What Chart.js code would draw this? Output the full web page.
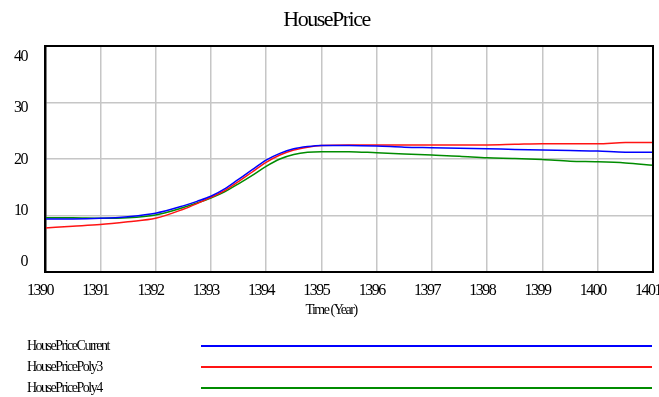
<!DOCTYPE html>
<html>
<head>
<meta charset="utf-8">
<script src="https://cdn.jsdelivr.net/npm/chart.js@4/dist/chart.umd.min.js"></script>
<style>
  html, body { margin: 0; padding: 0; background: #fff; }
  #wrap { width: 659px; height: 397px; }
</style>
</head>
<body>
<div id="wrap"><canvas id="chart"></canvas></div>
<script>
// values
const years = [1390, 1390.5, 1391, 1391.5, 1392, 1392.5, 1392.75, 1393, 1393.25, 1393.5, 1393.75,
  1394, 1394.25, 1394.5, 1394.75, 1395, 1395.5, 1396, 1396.5, 1397, 1397.5, 1398, 1398.5,
  1399, 1399.5, 1400, 1400.5, 1401];
const priceCurrent = [9.4, 9.4, 9.5, 9.8, 10.4, 11.7, 12.5, 13.4, 14.7, 16.4, 18.1,
  19.8, 21.0, 21.8, 22.2, 22.4, 22.4, 22.3, 22.1, 22.0, 21.9, 21.8, 21.7,
  21.6, 21.5, 21.4, 21.2, 21.2];
const pricePoly3 = [7.8, 8.1, 8.4, 8.9, 9.5, 11.1, 12.1, 13.2, 14.4, 16.0, 17.7,
  19.4, 20.7, 21.6, 22.1, 22.4, 22.5, 22.5, 22.5, 22.5, 22.5, 22.5, 22.6,
  22.7, 22.7, 22.7, 22.9, 22.9];
const pricePoly4 = [9.6, 9.6, 9.5, 9.6, 10.1, 11.4, 12.2, 13.1, 14.2, 15.6, 17.1,
  18.7, 20.0, 20.8, 21.2, 21.3, 21.3, 21.1, 20.9, 20.7, 20.5, 20.2, 20.1,
  19.9, 19.6, 19.5, 19.3, 18.9];
const seriesNames = ['HousePriceCurrent', 'HousePricePoly3', 'HousePricePoly4'];
const yTicks = [0, 10, 20, 30, 40];
const chartTitle = 'HousePrice';
const xTitle = 'Time (Year)';

const FONT = "'Liberation Serif', 'DejaVu Serif', serif";

const pts = vals => vals.map((v, i) => ({ x: years[i], y: v }));

// frame, axis title, legend rows and the condensed lettering
const vensimLook = {
  id: 'vensimLook',
  beforeDraw(chart) {
    chart.ctx.letterSpacing = '-1.5px';
  },
  afterDraw(chart) {
    const ctx = chart.ctx;
    const a = chart.chartArea;
    ctx.save();
    ctx.letterSpacing = '-1.5px';
    ctx.strokeStyle = '#000';
    ctx.lineWidth = 2;
    ctx.strokeRect(a.left, a.top, a.right - a.left, a.bottom - a.top);

    ctx.fillStyle = '#000';
    ctx.font = '14px ' + FONT;
    ctx.textAlign = 'center';
    ctx.textBaseline = 'middle';
    ctx.fillText(xTitle, 331, 310);

    const rows = [346, 367, 388];
    ctx.textAlign = 'left';
    chart.data.datasets.forEach((ds, i) => {
      ctx.fillStyle = '#000';
      ctx.fillText(ds.label, 27, rows[i]);
      ctx.strokeStyle = ds.borderColor;
      ctx.lineWidth = 2;
      ctx.beginPath();
      ctx.moveTo(201, rows[i]);
      ctx.lineTo(652, rows[i]);
      ctx.stroke();
    });
    ctx.restore();
  }
};

const colors = ['rgb(0,0,255)', 'rgb(255,20,20)', 'rgb(0,140,0)'];

new Chart(document.getElementById('chart'), {
  type: 'line',
  data: {
    datasets: [priceCurrent, pricePoly3, pricePoly4].map((vals, i) => ({
      label: seriesNames[i],
      data: pts(vals),
      borderColor: colors[i],
      borderWidth: 1.5,
      pointRadius: 0,
      cubicInterpolationMode: 'monotone'
    }))
  },
  options: {
    responsive: true,
    maintainAspectRatio: false,
    animation: false,
    layout: { padding: { left: 0, right: 6, top: 0, bottom: 0 } },
    plugins: {
      legend: { display: false },
      tooltip: { enabled: false },
      title: {
        display: true,
        text: chartTitle,
        color: '#000',
        font: { family: FONT, size: 22, weight: 'normal' },
        padding: { top: 7, bottom: 12.6 }
      }
    },
    scales: {
      x: {
        type: 'linear',
        min: 1390,
        max: 1401,
        ticks: {
          stepSize: 1,
          autoSkip: false,
          maxRotation: 0,
          padding: 9,
          labelOffset: -5,
          color: '#000',
          font: { family: FONT, size: 16 },
          callback: v => String(v)
        },
        grid: { color: '#c6c6c6', lineWidth: 1.5, drawTicks: false },
        border: { color: '#000', width: 2 },
        afterFit(scale) {
          scale.height = 125;
          scale.paddingLeft = 0;
          scale.paddingRight = 0;
        }
      },
      y: {
        position: 'left',
        min: 0,
        max: 40,
        ticks: { display: false, stepSize: 10 },
        grid: { color: '#c6c6c6', lineWidth: 1.5, drawTicks: false },
        border: { color: '#000', width: 2.5 },
        afterFit(scale) {
          scale.width = 0;
          scale.paddingTop = 0;
          scale.paddingBottom = 0;
        }
      },
      // label axis: Vensim spreads the value labels slightly inside the frame
      yLabels: {
        position: 'left',
        min: -1.95,
        max: 42.15,
        grid: { display: false, drawTicks: false },
        border: { display: false },
        ticks: {
          padding: 18,
          color: '#000',
          font: { family: FONT, size: 16 }
        },
        afterBuildTicks(scale) {
          scale.ticks = yTicks.map(v => ({ value: v }));
        },
        afterFit(scale) {
          scale.width = 45;
          scale.paddingTop = 0;
          scale.paddingBottom = 0;
        }
      }
    }
  },
  plugins: [vensimLook]
});
</script>
</body>
</html>
